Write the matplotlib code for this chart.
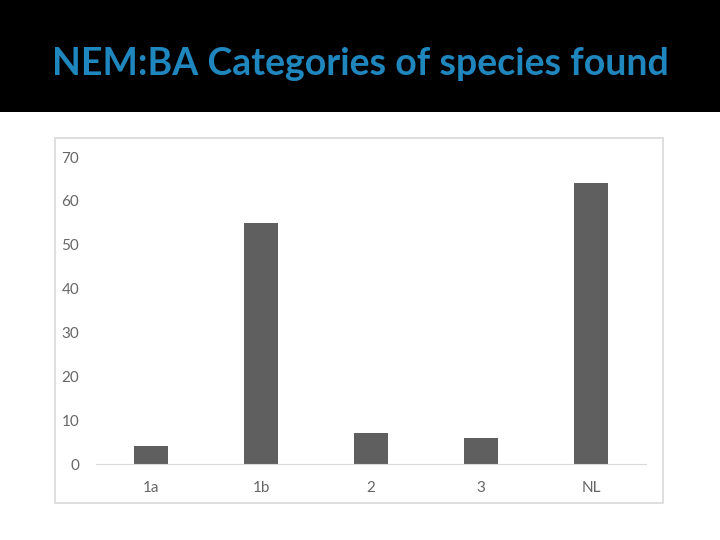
import matplotlib.pyplot as plt
from matplotlib.patches import Rectangle

# Kategorien und Anzahl gefundener Arten
categories = ["1a", "1b", "2", "3", "NL"]
counts = [4, 55, 7, 6, 64]
yticks = [0, 10, 20, 30, 40, 50, 60, 70]

fig = plt.figure(figsize=(7.2, 5.4), dpi=100)
fig.patch.set_facecolor("white")

# schwarzer Kopfbereich mit Titel
fig.add_artist(Rectangle((0, 1 - 112 / 540), 1, 112 / 540, transform=fig.transFigure,
                         facecolor="black", edgecolor="none", zorder=-2))
fig.text(0.5, 1 - 64 / 540, "NEM:BA Categories of species found", color="#1F86BE",
         fontsize=27, family="Lato", weight="bold", ha="center", va="center")

# heller Rahmen um das Diagramm
fig.add_artist(Rectangle((55 / 720, 1 - 503 / 540), 608 / 720, 365 / 540,
                         transform=fig.transFigure, facecolor="white",
                         edgecolor="#D9D9D9", linewidth=1.2, zorder=-1))

ax = fig.add_axes([96 / 720, 1 - 464 / 540, 550 / 720, (464 - 157) / 540])
ax.bar(range(len(categories)), counts, width=0.31, color="#5F5F5F", zorder=2)
ax.set_xlim(-0.5, len(categories) - 0.5)
ax.set_ylim(0, 70)
ax.set_yticks(yticks)
ax.set_xticks(range(len(categories)))
ax.set_xticklabels(categories)
ax.tick_params(length=0, colors="#666666", labelsize=11)
ax.tick_params(axis="y", pad=12)
ax.tick_params(axis="x", pad=12)
for lbl in ax.get_xticklabels() + ax.get_yticklabels():
    lbl.set_family("Lato")
for s in ["top", "right", "left"]:
    ax.spines[s].set_visible(False)
ax.spines["bottom"].set_color("#D9D9D9")
ax.set_facecolor("none")

fig.savefig("out.png", dpi=100)
